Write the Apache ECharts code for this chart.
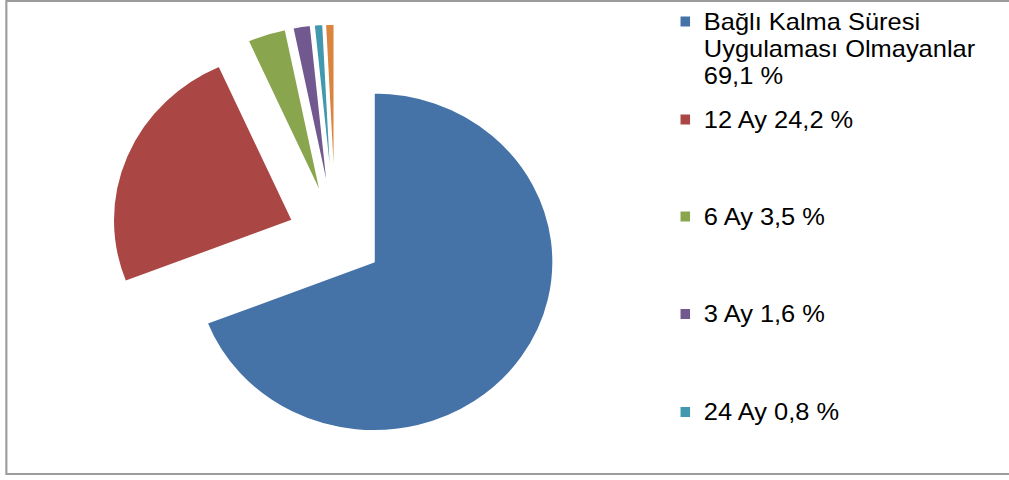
<!DOCTYPE html>
<html lang="tr">
<head>
<meta charset="UTF-8">
<title>Bağlı Kalma Süresi</title>
<script src="https://cdn.jsdelivr.net/npm/echarts@6/dist/echarts.min.js"></script>
<style>
body{margin:0;background:#fff;overflow:hidden}
/* the source picture is a little wider than tall, so stretch it the same way */
#chart{width:952px;height:480px;transform:scaleX(1.06);transform-origin:0 0}
</style>
</head>
<body>
<div id="chart"></div>
<script>
// data
var names = ['Bağlı Kalma Süresi\nUygulaması Olmayanlar', '12 Ay', '6 Ay', '3 Ay', '24 Ay', 'Diğer'];
var values = [69.1, 24.2, 3.5, 1.6, 0.8, 0.8];
var colors = ['#4572A7', '#AA4643', '#89A54E', '#71588F', '#4198AF', '#DB843D'];
var legendNames = names.slice(0, 5);

var chart = echarts.init(document.getElementById('chart'), null, {renderer: 'svg'});

function pct(v) {
    return v.toFixed(1).replace('.', ',') + ' %';
}

// one legend block per entry, spread down the right side like the original
var legendTops = [-46, 106, 203, 300.5, 398.5];
var legends = legendNames.map(function (n, i) {
    return {
        orient: 'vertical',
        left: 640,
        top: legendTops[i],
        padding: 0,
        itemWidth: 11,
        itemHeight: 12,
        icon: 'rect',
        selectedMode: false,
        data: [n],
        formatter: function (name) {
            var k = names.indexOf(name);
            var txt = name + (name.indexOf('\n') > -1 ? '\n' : ' ') + pct(values[k]);
            // text is centred on the marker, so pad a multi-line entry on top
            // to keep its first line level with the marker
            var extra = txt.split('\n').length - 1;
            return new Array(extra + 1).join('\n') + txt;
        },
        textStyle: {
            fontFamily: 'Liberation Sans, Arial, sans-serif',
            fontSize: 24,
            lineHeight: 27,
            color: '#000',
            padding: [0, 0, 0, 7]
        }
    };
});

var option = {
    animation: false,
    backgroundColor: '#fff',
    graphic: [{
        type: 'rect',
        shape: {x: 6, y: 1, width: 1000, height: 473},
        style: {fill: 'none', stroke: '#9c9c9c', lineWidth: 2}
    }],
    legend: legends,
    series: [{
        type: 'pie',
        center: [316.5, 237],
        radius: 169,
        startAngle: 90,
        clockwise: true,
        selectedMode: 'multiple',
        selectedOffset: 44,
        label: {show: false},
        labelLine: {show: false},
        emphasis: {disabled: true},
        itemStyle: {borderColor: '#fff', borderWidth: 1.5},
        data: names.map(function (n, i) {
            return {name: n, value: values[i], selected: true, itemStyle: {color: colors[i]}};
        })
    }]
};
chart.setOption(option);
</script>
</body>
</html>
